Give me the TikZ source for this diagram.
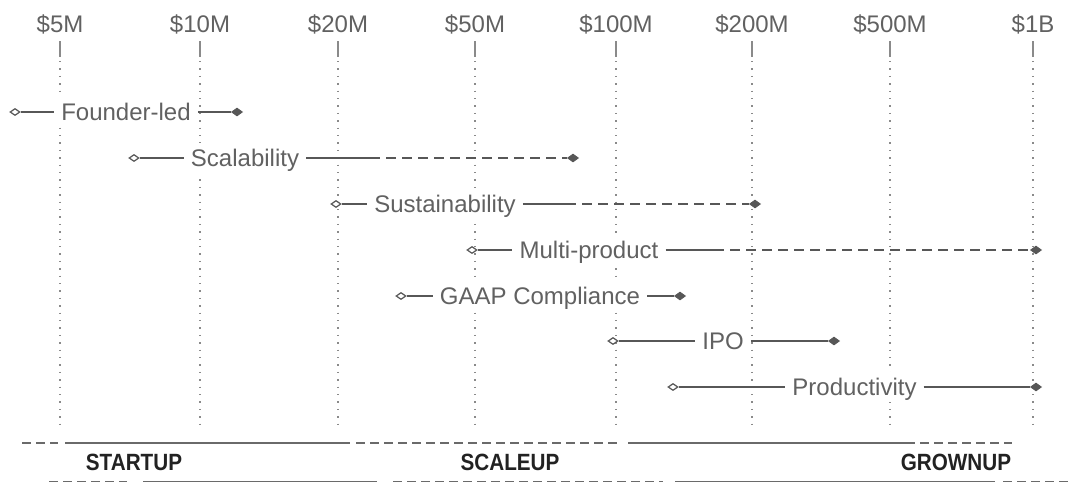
\documentclass[tikz,border=0pt]{standalone}
\usepackage{fontspec}
\setmainfont{Liberation Sans}
\usetikzlibrary{shapes.geometric}
\definecolor{tgray}{HTML}{616161}
\definecolor{lgray}{HTML}{575757}
\definecolor{dgray}{HTML}{8A8A8A}
\definecolor{bgray}{HTML}{6A6A6A}
\definecolor{btext}{HTML}{222222}
\tikzset{
  axlabel/.style={anchor=base, text=tgray, font=\fontsize{24}{28}\selectfont, inner sep=0},
  tick/.style={draw=dgray, line width=1.2pt},
  dotline/.style={draw=dgray, line width=1.4pt, dash pattern=on 1.4pt off 6pt},
  opend/.style={diamond, draw=lgray, fill=white, line width=1.2pt, minimum width=10pt, minimum height=7pt, inner sep=0},
  filld/.style={diamond, draw=lgray, fill=lgray, line width=0.8pt, minimum width=11pt, minimum height=8pt, inner sep=0},
  rowtext/.style={text=tgray, fill=white, font=\fontsize{24}{28}\selectfont, text height=17pt, text depth=0pt, inner xsep=7pt, inner ysep=6.5pt},
  ln/.style={draw=lgray, line width=1.5pt},
  dln/.style={draw=lgray, line width=1.5pt, dash pattern=on 10pt off 6pt},
  band/.style={draw=bgray, line width=1.8pt},
  dband/.style={draw=bgray, line width=1.8pt, dash pattern=on 9pt off 5pt},
  phase/.style={text=btext, font=\bfseries\fontsize{23.5}{27}\selectfont, anchor=base, inner sep=0}
}
\begin{document}
\begin{tikzpicture}[x=1pt,y=-1pt]
\useasboundingbox (0,0) rectangle (1069,483);
% axis
\foreach \x/\l/\n in {60/\$5M/a1,200/\$10M/a2,338/\$20M/a3,475/\$50M/a4,616/\$100M/a5,752/\$200M/a6,890/\$500M/a7,1033/\$1B/a8}{
  \node[axlabel] (\n) at (\x,32) {\l};
  \draw[tick] (\x,41) -- (\x,57);
  \draw[dotline] (\x,61) -- (\x,428);
}
% 1 Founder-led
\node[opend] (s1) at (15,112) {};
\node[filld] (e1) at (237,112) {};
\node[rowtext] (t1) at (126,112) {Founder-led};
\draw[ln] (s1) -- (t1);
\draw[ln] (t1) -- (e1);
% 2 Scalability
\node[opend] (s2) at (134,158) {};
\node[filld] (e2) at (573,158) {};
\node[rowtext] (t2) at (245,158) {Scalability};
\coordinate (m2) at (370,158);
\draw[ln] (s2) -- (t2);
\draw[ln] (t2) -- (m2);
\draw[dln] (m2) -- (e2);
% 3 Sustainability
\node[opend] (s3) at (336,204) {};
\node[filld] (e3) at (755,204) {};
\node[rowtext] (t3) at (445,204) {Sustainability};
\coordinate (m3) at (566,204);
\draw[ln] (s3) -- (t3);
\draw[ln] (t3) -- (m3);
\draw[dln] (m3) -- (e3);
% 4 Multi-product
\node[opend] (s4) at (472,250) {};
\node[filld] (e4) at (1036,250) {};
\node[rowtext] (t4) at (589,250) {Multi-product};
\coordinate (m4) at (714,250);
\draw[ln] (s4) -- (t4);
\draw[ln] (t4) -- (m4);
\draw[dln] (m4) -- (e4);
% 5 GAAP Compliance
\node[opend] (s5) at (401,296) {};
\node[filld] (e5) at (680,296) {};
\node[rowtext] (t5) at (540,296) {GAAP Compliance};
\draw[ln] (s5) -- (t5);
\draw[ln] (t5) -- (e5);
% 6 IPO
\node[opend] (s6) at (613,341) {};
\node[filld] (e6) at (834,341) {};
\node[rowtext] (t6) at (723,341) {IPO};
\draw[ln] (s6) -- (t6);
\draw[ln] (t6) -- (e6);
% 7 Productivity
\node[opend] (s7) at (673,387) {};
\node[filld] (e7) at (1036,387) {};
\node[rowtext] (t7) at (854.5,387) {Productivity};
\draw[ln] (s7) -- (t7);
\draw[ln] (t7) -- (e7);
% bands
\draw[dband] (22,443) -- (58,443);
\draw[band] (65,443) -- (350,443);
\draw[dband] (356,443) -- (621,443);
\draw[band] (628,443) -- (915,443);
\draw[dband] (920,443) -- (1012,443);
\draw[dband] (49,481.5) -- (127,481.5);
\draw[band] (143,481.5) -- (377,481.5);
\draw[dband] (393,481.5) -- (663,481.5);
\draw[band] (675,481.5) -- (995,481.5);
\draw[dband] (1003,481.5) -- (1069,481.5);
\node[phase] (p1) at (134,470) {\scalebox{0.88}[1]{STARTUP}};
\node[phase] (p2) at (510,470) {\scalebox{0.88}[1]{SCALEUP}};
\node[phase] (p3) at (956,470) {\scalebox{0.88}[1]{GROWNUP}};
\end{tikzpicture}
\end{document}
